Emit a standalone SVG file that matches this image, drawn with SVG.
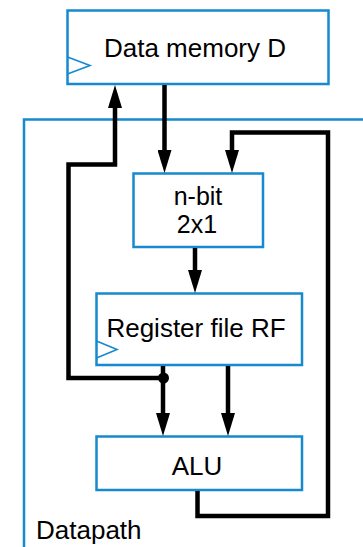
<svg xmlns="http://www.w3.org/2000/svg" width="363" height="547" viewBox="0 0 363 547">
<style>
.box{fill:#fff;stroke:#1689cf;stroke-width:2.5}
.clk{fill:none;stroke:#1689cf;stroke-width:1.6}
.lbl{font-family:"Liberation Sans",Arial,sans-serif;font-size:26px;fill:#000;text-anchor:middle}
.sm{font-size:25px}
.w{fill:none;stroke:#000;stroke-width:4.5;stroke-linejoin:miter}
</style>
<defs>
<marker id="ah" viewBox="0 0 23 14" refX="0" refY="7" markerWidth="23" markerHeight="14" markerUnits="userSpaceOnUse" orient="auto">
<path d="M0,0 L23,7 L0,14 Z" fill="#000"/>
</marker>
</defs>
<rect width="363" height="547" fill="#fff"/>
<g id="datapath">
<path d="M364,119.5 H24 V548" fill="none" stroke="#1689cf" stroke-width="2.5"/>
<text x="36" y="539" class="lbl" style="text-anchor:start">Datapath</text>
</g>
<g id="dmem">
<rect x="67.5" y="10.5" width="261" height="73.5" class="box"/>
<path d="M67.5,57 L90,65.5 L67.5,74" class="clk"/>
<text x="195" y="57" class="lbl">Data memory D</text>
</g>
<g id="mux">
<rect x="133.5" y="173.5" width="129.5" height="73.5" class="box"/>
<text x="198" y="204.5" class="lbl sm">n-bit</text>
<text x="197" y="232.5" class="lbl sm">2x1</text>
</g>
<g id="rf">
<rect x="96.5" y="293.5" width="205.5" height="71.5" class="box"/>
<path d="M96.5,341 L117,349.5 L96.5,358" class="clk"/>
<text x="196" y="337" class="lbl">Register file RF</text>
</g>
<g id="alu">
<rect x="96.5" y="436.5" width="205.5" height="53.5" class="box"/>
<text x="197" y="475" class="lbl">ALU</text>
</g>
<g id="connectors">
<path d="M163,378 H68.5 V164.5 H115 V108" class="w" marker-end="url(#ah)"/>
<path d="M164.5,85 V150" class="w" marker-end="url(#ah)"/>
<path d="M197.5,491 V516 H328 V132.5 H232 V150" class="w" marker-end="url(#ah)"/>
<path d="M195,248 V270" class="w" marker-end="url(#ah)"/>
<path d="M163,366 V413" class="w" marker-end="url(#ah)"/>
<path d="M228,366 V413" class="w" marker-end="url(#ah)"/>
<circle cx="163.5" cy="378" r="5.5" fill="#000"/>
</g>
</svg>
